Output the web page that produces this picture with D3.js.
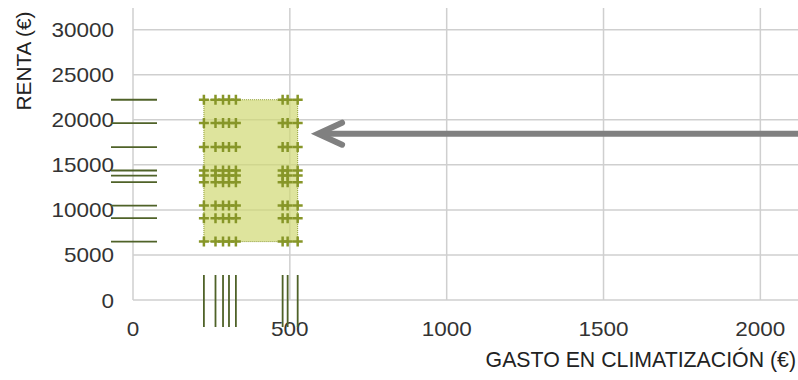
<!DOCTYPE html>
<html>
<head>
<meta charset="utf-8">
<script src="https://cdn.jsdelivr.net/npm/d3@7"></script>
<style>
html,body{margin:0;padding:0;background:#fff;}
svg{display:block;font-family:"Liberation Sans",Arial,sans-serif;}
</style>
</head>
<body>
<svg id="chart" width="798" height="380"></svg>
<script>
// ---- data ----
const gastoValues = [226, 263, 287, 306, 328, 477, 493, 525];          // x (€)
const rentaValues = [22222, 19633, 16967, 14367, 13811, 13078, 10478, 9078, 6478]; // y (€)
const xTicks = [0, 500, 1000, 1500, 2000];
const yTicks = [0, 5000, 10000, 15000, 20000, 25000, 30000];
const xDomain = [0, 2120];
const yDomain = [0, 32400];
const arrowRenta = [18450];
const arrowGasto = [2300, 590];
const xTitle = "GASTO EN CLIMATIZACIÓN (€)";
const yTitle = "RENTA (€)";

const points = [];
gastoValues.forEach(g => rentaValues.forEach(r => points.push({g, r})));

const svg = d3.select("#chart");
const x = d3.scaleLinear().domain(xDomain).range([133, 798]);
const y = d3.scaleLinear().domain(yDomain).range([300, 8]);

const gridColor = "#cfcfcf";
// grid
svg.append("g").selectAll("line").data(yTicks).join("line")
  .attr("x1", x(0)).attr("x2", 798)
  .attr("y1", d => y(d)).attr("y2", d => y(d))
  .attr("stroke", gridColor).attr("stroke-width", 1.5);
svg.append("g").selectAll("line").data(xTicks).join("line")
  .attr("x1", d => x(d)).attr("x2", d => x(d))
  .attr("y1", y(yDomain[1])).attr("y2", y(0))
  .attr("stroke", gridColor).attr("stroke-width", 1.5);

// tick labels
const labelColor = "#333";
const yl = svg.append("g").selectAll("text").data(yTicks).join("text")
  .attr("x", 114).attr("y", d => y(d)).attr("dy", "0.36em")
  .attr("text-anchor", "end").attr("font-size", 21).attr("fill", labelColor)
  .text(d => d);
const xl = svg.append("g").selectAll("text").data(xTicks).join("text")
  .attr("x", d => x(d)).attr("y", 328).attr("dy", "0.36em")
  .attr("text-anchor", "middle").attr("font-size", 21).attr("fill", labelColor)
  .text(d => d);
[yl, xl].forEach(sel => sel.each(function(){
  const w = this.getComputedTextLength();
  d3.select(this).attr("textLength", w * 1.07).attr("lengthAdjust", "spacingAndGlyphs");
}));

// titles
svg.append("text").attr("x", 796).attr("y", 367).attr("text-anchor", "end")
  .attr("font-size", 21.3).attr("fill", "#222").text(xTitle);
svg.append("text").attr("transform", "translate(31,61) rotate(-90)")
  .attr("text-anchor", "middle").attr("font-size", 20.8).attr("fill", "#222").text(yTitle);

// bounding rect
const gx = d3.extent(points, d => d.g), ry = d3.extent(points, d => d.r);
svg.append("rect")
  .attr("x", x(gx[0])).attr("y", y(ry[1]))
  .attr("width", x(gx[1]) - x(gx[0])).attr("height", y(ry[0]) - y(ry[1]))
  .attr("fill", "#d0d873").attr("fill-opacity", 0.7)
  .attr("stroke", "#8c9a2e").attr("stroke-width", 1).attr("stroke-dasharray", "1,1");

// markers
const mColor = "#879628";
svg.append("g").selectAll("path").data(points).join("path")
  .attr("transform", d => `translate(${x(d.g)},${y(d.r)})`)
  .attr("d", "M-5,0H5M0,-5V5")
  .attr("stroke", mColor).attr("stroke-width", 2.5).attr("fill", "none");

// rugs
const rugColor = "#4f6228";
svg.append("g").selectAll("line").data(rentaValues).join("line")
  .attr("x1", 111).attr("x2", 157)
  .attr("y1", d => y(d)).attr("y2", d => y(d))
  .attr("stroke", rugColor).attr("stroke-width", 1.8);
svg.append("g").selectAll("line").data(gastoValues).join("line")
  .attr("x1", d => x(d)).attr("x2", d => x(d))
  .attr("y1", 275).attr("y2", 327)
  .attr("stroke", rugColor).attr("stroke-width", 1.8);

// arrow
const ay = y(arrowRenta[0]);
const tip = x(arrowGasto[1]);
svg.append("line").attr("x1", x(arrowGasto[0])).attr("x2", tip + 4)
  .attr("y1", ay).attr("y2", ay)
  .attr("stroke", "#808080").attr("stroke-width", 6);
svg.append("path")
  .attr("d", `M${tip+24},${ay-11}L${tip},${ay}L${tip+24},${ay+11}`)
  .attr("fill", "none").attr("stroke", "#808080").attr("stroke-width", 6)
  .attr("stroke-linecap", "round").attr("stroke-linejoin", "miter");
</script>
</body>
</html>
